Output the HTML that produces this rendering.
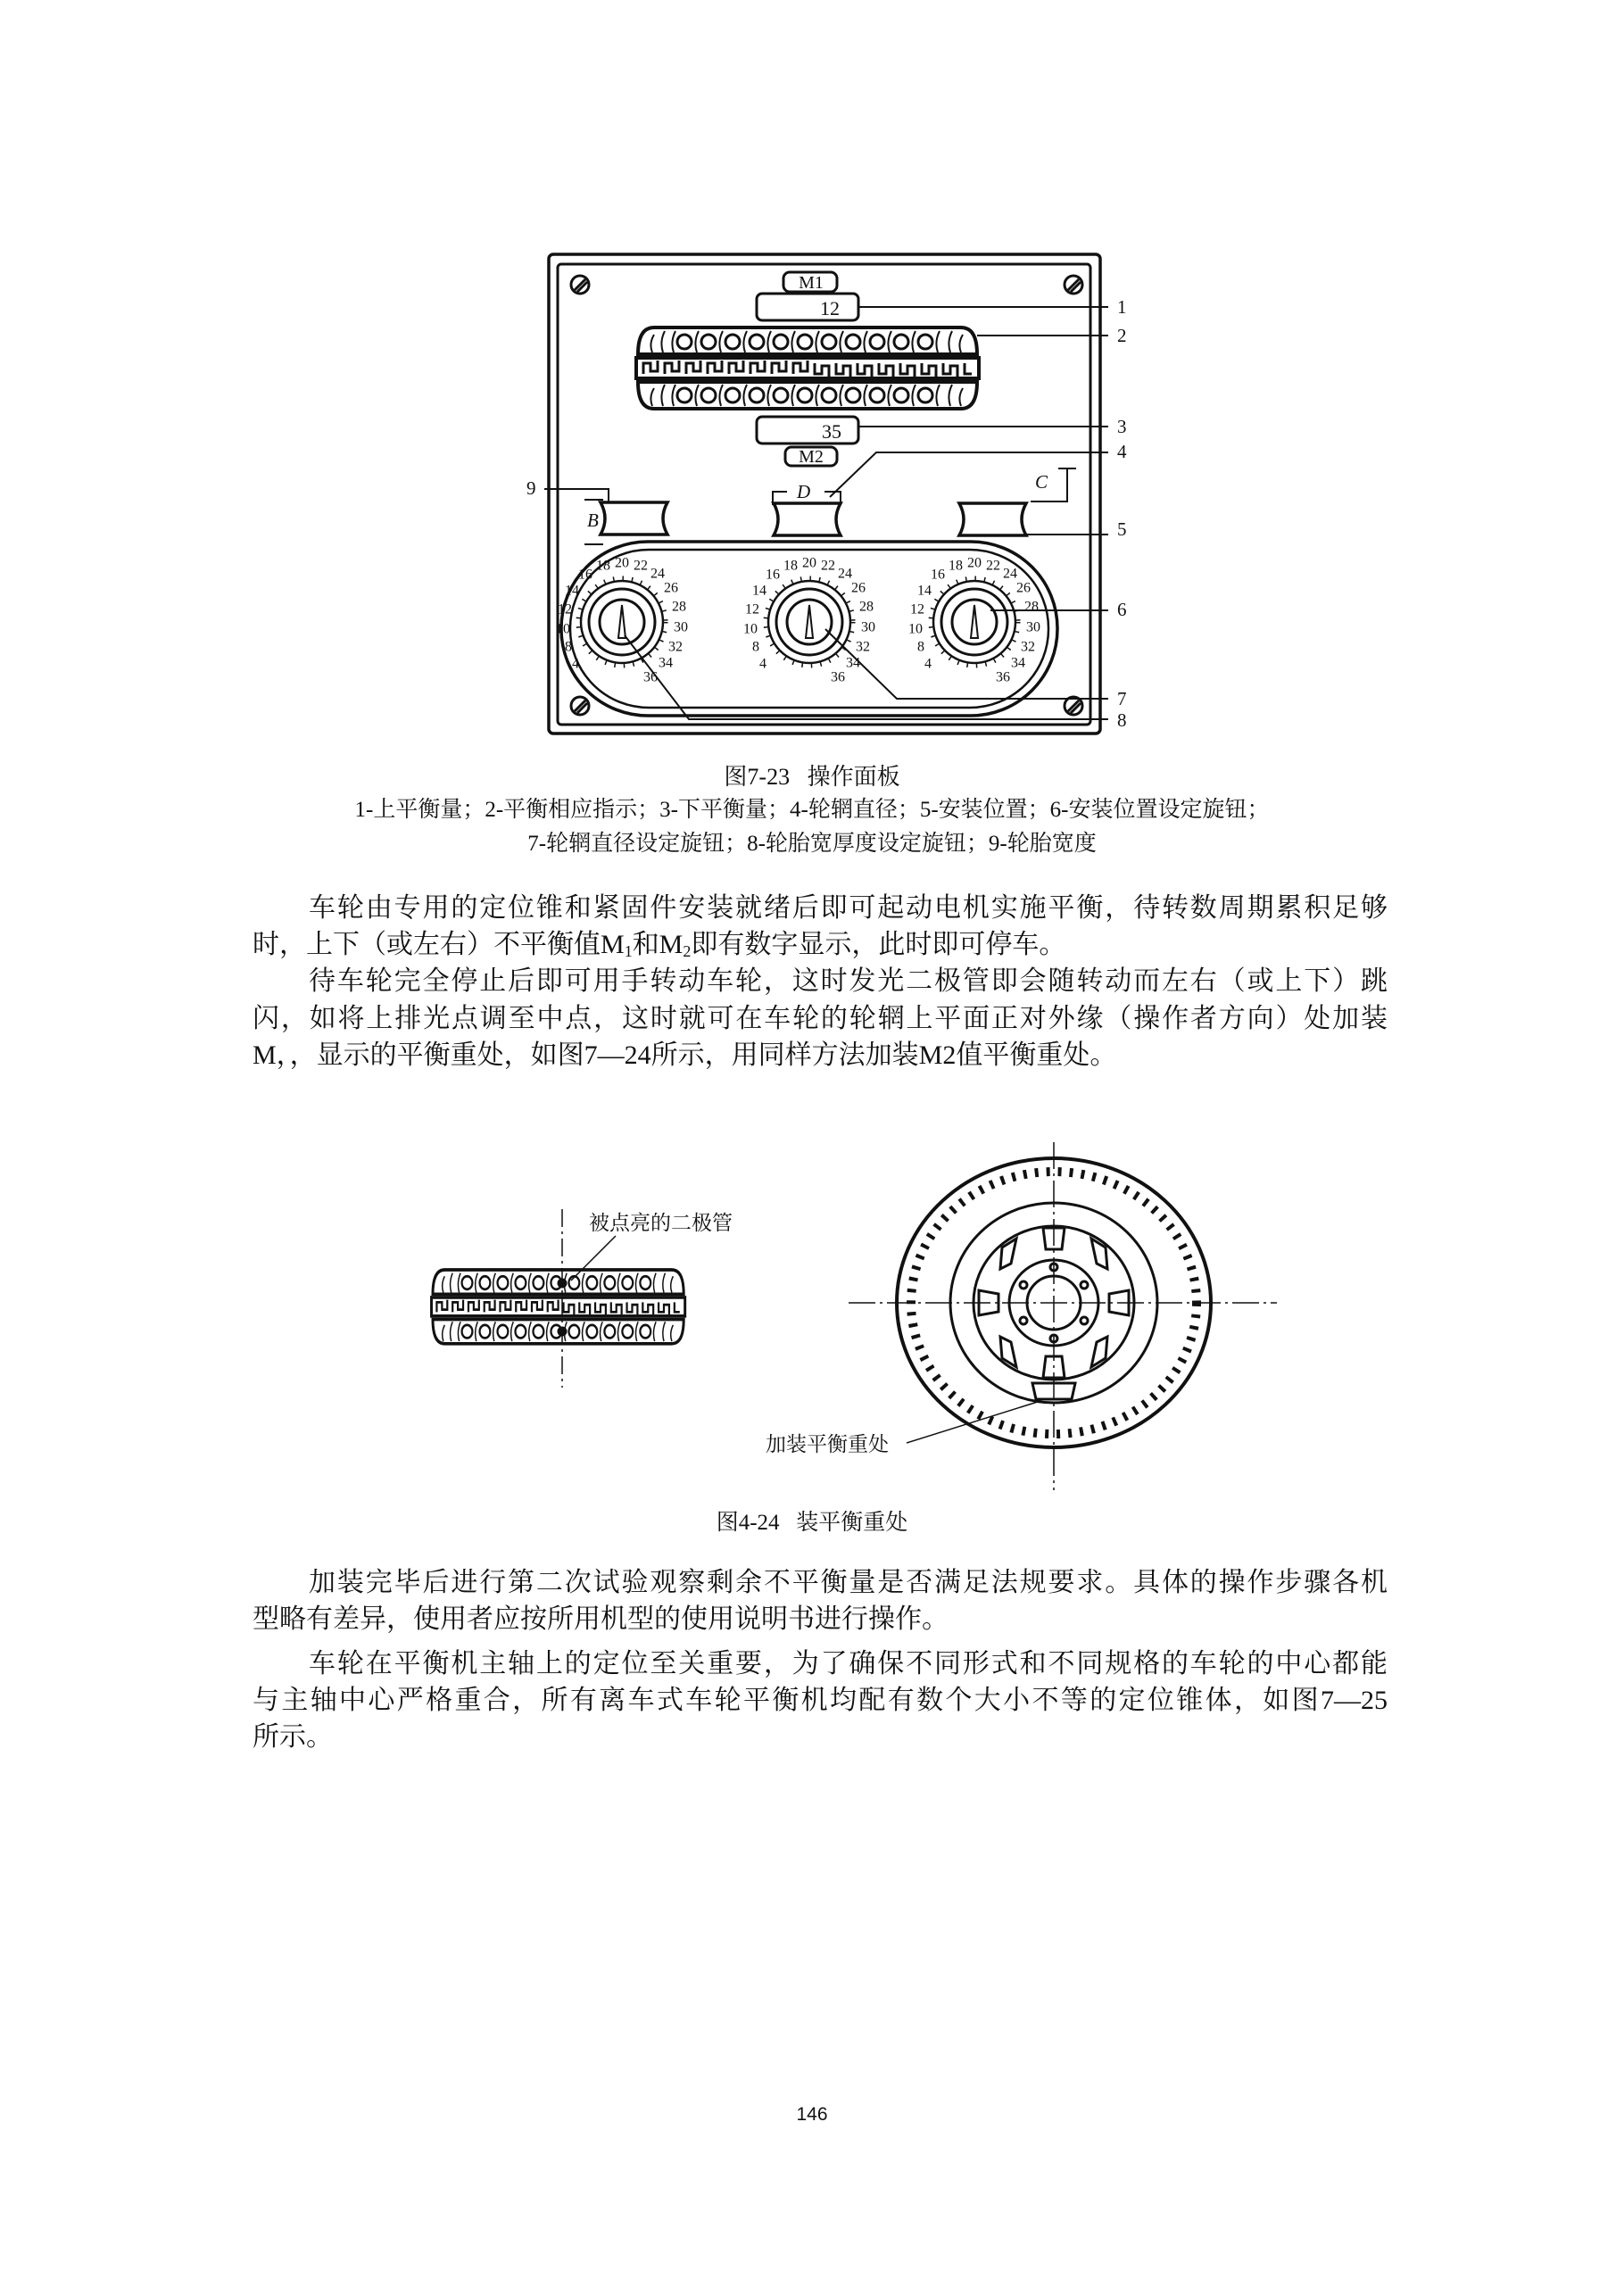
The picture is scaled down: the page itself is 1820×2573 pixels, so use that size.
<!DOCTYPE html>
<html><head><meta charset="utf-8">
<style>
html,body{margin:0;padding:0;background:#fff;}
body{width:1820px;height:2573px;position:relative;overflow:hidden;font-family:"Liberation Serif","Noto Serif CJK SC",serif;color:#111;}
.t{position:absolute;font-size:30px;line-height:40px;white-space:nowrap;}
.j{text-align:justify;text-align-last:justify;white-space:normal;}
.c{position:absolute;left:0;width:1820px;text-align:center;white-space:nowrap;}
svg{position:absolute;left:0;top:0;}
sub{font-size:18px;vertical-align:-4px;line-height:0;}
</style></head><body>
<svg width="1820" height="2573" viewBox="0 0 1820 2573" fill="none" stroke="#111">
<defs>
<g id="led">
  <path d="M18 0 H362 Q380 0 380 30 H0 Q0 0 18 0Z" stroke-width="4"/>
  <path d="M0 61 H380 Q380 91 362 91 H18 Q0 91 0 61Z" stroke-width="4"/>
  <rect x="-2" y="34" width="384" height="23" stroke-width="4"/>
  <path d="M6 52 v-12 h8 v9 h8 v-12 M30 52 v-12 h8 v9 h8 v-12 M54 52 v-12 h8 v9 h8 v-12 M78 52 v-12 h8 v9 h8 v-12 M102 52 v-12 h8 v9 h8 v-12 M126 52 v-12 h8 v9 h8 v-12 M150 52 v-12 h8 v9 h8 v-12 M174 52 v-12 h8 v9 h8 v-12 M198 40 v12 h8 v-9 h8 v12 M222 40 v12 h8 v-9 h8 v12 M246 40 v12 h8 v-9 h8 v12 M270 40 v12 h8 v-9 h8 v12 M294 40 v12 h8 v-9 h8 v12 M318 40 v12 h8 v-9 h8 v12 M342 40 v12 h8 v-9 h8 v12 M366 40 v12 h8" stroke-width="3"/>
  <g stroke-width="3">
   <circle cx="52" cy="16" r="8"/><circle cx="79" cy="16" r="8"/><circle cx="106" cy="16" r="8"/><circle cx="133" cy="16" r="8"/><circle cx="160" cy="16" r="8"/><circle cx="187" cy="16" r="8"/><circle cx="214" cy="16" r="8"/><circle cx="241" cy="16" r="8"/><circle cx="268" cy="16" r="8"/><circle cx="295" cy="16" r="8"/><circle cx="322" cy="16" r="8"/>
   <circle cx="52" cy="76" r="8"/><circle cx="79" cy="76" r="8"/><circle cx="106" cy="76" r="8"/><circle cx="133" cy="76" r="8"/><circle cx="160" cy="76" r="8"/><circle cx="187" cy="76" r="8"/><circle cx="214" cy="76" r="8"/><circle cx="241" cy="76" r="8"/><circle cx="268" cy="76" r="8"/><circle cx="295" cy="76" r="8"/><circle cx="322" cy="76" r="8"/>
  </g>
  <path d="M16 28 q-4 -10 2 -20 M28 28 q-4 -12 2 -24 M40 28 q-4 -12 2 -24 M66 28 q-4-12 2-24 M93 28 q-4-12 2-24 M120 28 q-4-12 2-24 M147 28 q-4-12 2-24 M174 28 q-4-12 2-24 M201 28 q-4-12 2-24 M228 28 q-4-12 2-24 M255 28 q-4-12 2-24 M282 28 q-4-12 2-24 M309 28 q-4-12 2-24 M336 28 q-4-12 2-24 M350 28 q-4-12 2-24 M362 28 q-4-10 2-20
  M16 88 q-4 -10 2 -20 M28 88 q-4-12 2-24 M40 88 q-4-12 2-24 M66 88 q-4-12 2-24 M93 88 q-4-12 2-24 M120 88 q-4-12 2-24 M147 88 q-4-12 2-24 M174 88 q-4-12 2-24 M201 88 q-4-12 2-24 M228 88 q-4-12 2-24 M255 88 q-4-12 2-24 M282 88 q-4-12 2-24 M309 88 q-4-12 2-24 M336 88 q-4-12 2-24 M350 88 q-4-12 2-24 M362 88 q-4-10 2-20" stroke-width="2"/>
</g>
</defs>

<!-- panel -->
<rect x="615" y="285" width="618" height="537" rx="5" stroke-width="3.5"/>
<rect x="625" y="296" width="597" height="516" rx="4" stroke-width="3"/>
<g stroke-width="3">
<circle cx="650" cy="319" r="10"/><path d="M644 325 L656 313 M647 327 L658 316"/>
<circle cx="1203" cy="319" r="10"/><path d="M1197 325 L1209 313 M1200 327 L1211 316"/>
<circle cx="650" cy="791" r="10"/><path d="M644 797 L656 785 M647 799 L658 788"/>
<circle cx="1203" cy="791" r="10"/><path d="M1197 797 L1209 785 M1200 799 L1211 788"/>
</g>
<rect x="878" y="305" width="60" height="22" rx="7" stroke-width="3"/>
<rect x="848" y="329" width="114" height="30" rx="6" stroke-width="3"/>
<use href="#led" transform="translate(715,367)"/>
<rect x="848" y="467" width="114" height="30" rx="6" stroke-width="3"/>
<rect x="880" y="501" width="58" height="21" rx="7" stroke-width="3"/>

<!-- spools -->
<g stroke-width="3.5">
<path d="M673 563 H748 Q738 581 748 599 H673 Q683 581 673 563Z"/>
<path d="M867 564 H942 Q932 582 942 600 H867 Q877 582 867 564Z"/>
<path d="M1075 564 H1150 Q1140 582 1150 600 H1075 Q1085 582 1075 564Z"/>
</g>
<!-- dial oval -->
<rect x="629" y="607" width="556" height="195" rx="97" stroke-width="3.5"/>
<rect x="639" y="616" width="536" height="177" rx="88" stroke-width="2.5"/>
<g stroke-width="3">
<circle cx="697" cy="697" r="46" stroke-width="2.5"/><circle cx="697" cy="697" r="49" stroke-width="5" stroke-dasharray="1.5 9"/><circle cx="697" cy="697" r="37"/><circle cx="697" cy="697" r="25"/>
<path d="M697 678 L693 715 L701 715Z" stroke-width="2"/>
<circle cx="907" cy="697" r="46" stroke-width="2.5"/><circle cx="907" cy="697" r="49" stroke-width="5" stroke-dasharray="1.5 9"/><circle cx="907" cy="697" r="37"/><circle cx="907" cy="697" r="25"/>
<path d="M907 678 L903 715 L911 715Z" stroke-width="2"/>
<circle cx="1092" cy="697" r="46" stroke-width="2.5"/><circle cx="1092" cy="697" r="49" stroke-width="5" stroke-dasharray="1.5 9"/><circle cx="1092" cy="697" r="37"/><circle cx="1092" cy="697" r="25"/>
<path d="M1092 678 L1088 715 L1096 715Z" stroke-width="2"/>
</g>
<!-- leaders -->
<g stroke-width="2">
<path d="M962 344 H1242"/>
<path d="M1095 376 H1242"/>
<path d="M962 478 H1242"/>
<path d="M930 557 L982 507 H1242"/>
<path d="M1150 599 H1242"/>
<path d="M1110 684 H1242"/>
<path d="M925 705 L1005 783 H1242"/>
<path d="M700 712 L772 806 H1242"/>
<path d="M610 548 H682 V562"/>
<path d="M866 566 V551 H882 M924 551 H942 V566"/>
<path d="M1155 562 H1196 V525 M1186 525 H1206"/>
<path d="M655 560 H676 M655 610 H676"/>
</g>
<g fill="#111" stroke="none" font-family="Liberation Serif, serif" font-size="21">
<text x="909" y="323" text-anchor="middle" font-size="20">M1</text>
<text x="930" y="353" text-anchor="middle" font-size="22">12</text>
<text x="932" y="491" text-anchor="middle" font-size="22">35</text>
<text x="909" y="518" text-anchor="middle" font-size="20">M2</text>
<text x="1252" y="351">1</text><text x="1252" y="383">2</text><text x="1252" y="485">3</text><text x="1252" y="513">4</text>
<text x="1252" y="600">5</text><text x="1252" y="690">6</text><text x="1252" y="790">7</text><text x="1252" y="814">8</text>
<text x="590" y="554">9</text>
<text x="658" y="590" font-style="italic">B</text>
<text x="893" y="558" font-style="italic">D</text>
<text x="1160" y="547" font-style="italic">C</text>
<g font-size="16" text-anchor="middle" dominant-baseline="central">
<g transform="translate(697,697)"><text x="0" y="-66">20</text><text x="21" y="-63">22</text><text x="40" y="-54">24</text><text x="55" y="-38">26</text><text x="64" y="-17">28</text><text x="66" y="6">30</text><text x="60" y="28">32</text><text x="49" y="46">34</text><text x="32" y="62">36</text><text x="-21" y="-63">18</text><text x="-41" y="-53">16</text><text x="-56" y="-35">14</text><text x="-64" y="-14">12</text><text x="-66" y="8">10</text><text x="-60" y="28">8</text><text x="-52" y="47">4</text></g>
<g transform="translate(907,697)"><text x="0" y="-66">20</text><text x="21" y="-63">22</text><text x="40" y="-54">24</text><text x="55" y="-38">26</text><text x="64" y="-17">28</text><text x="66" y="6">30</text><text x="60" y="28">32</text><text x="49" y="46">34</text><text x="32" y="62">36</text><text x="-21" y="-63">18</text><text x="-41" y="-53">16</text><text x="-56" y="-35">14</text><text x="-64" y="-14">12</text><text x="-66" y="8">10</text><text x="-60" y="28">8</text><text x="-52" y="47">4</text></g>
<g transform="translate(1092,697)"><text x="0" y="-66">20</text><text x="21" y="-63">22</text><text x="40" y="-54">24</text><text x="55" y="-38">26</text><text x="64" y="-17">28</text><text x="66" y="6">30</text><text x="60" y="28">32</text><text x="49" y="46">34</text><text x="32" y="62">36</text><text x="-21" y="-63">18</text><text x="-41" y="-53">16</text><text x="-56" y="-35">14</text><text x="-64" y="-14">12</text><text x="-66" y="8">10</text><text x="-60" y="28">8</text><text x="-52" y="47">4</text></g>
</g>
</g>

<!-- fig 4-24 left -->
<g transform="translate(485,1423) scale(0.74,0.91)"><use href="#led"/></g>
<path d="M630 1355 V1555" stroke-width="1.5" stroke-dasharray="20 5 3 5"/>
<circle cx="630" cy="1438" r="5" fill="#111"/><circle cx="630" cy="1492" r="5" fill="#111"/>
<path d="M690 1385 L640 1435" stroke-width="1.5"/>
<!-- wheel -->
<g transform="translate(1181,1460)">
<path d="M-230 0 H250 M0 -180 V210" stroke-width="1.5" stroke-dasharray="30 5 3 5"/>
<ellipse rx="176" ry="162" stroke-width="4"/>
<ellipse rx="160" ry="147" stroke-width="10" stroke-dasharray="4 9"/>
<ellipse rx="116" ry="112" stroke-width="3"/>
<ellipse rx="90" ry="86" stroke-width="3"/>
<ellipse rx="50" ry="48" stroke-width="3"/>
<circle r="30" stroke-width="3"/>
<g stroke-width="3">
<circle cx="0" cy="-40" r="4"/><circle cx="0" cy="40" r="4"/><circle cx="-34" cy="-20" r="4"/><circle cx="34" cy="-20" r="4"/><circle cx="-34" cy="20" r="4"/><circle cx="34" cy="20" r="4"/>
<path d="M-12 -84 H12 L9 -60 H-9Z"/><path d="M-12 84 H12 L9 60 H-9Z"/>
<path d="M-84 -14 V14 L-62 10 V-10Z"/><path d="M84 -14 V14 L62 10 V-10Z"/>
<path d="M-58 -62 L-42 -72 L-48 -44 L-60 -38Z"/><path d="M58 -62 L42 -72 L48 -44 L60 -38Z"/>
<path d="M-58 62 L-42 72 L-48 44 L-60 38Z"/><path d="M58 62 L42 72 L48 44 L60 38Z"/>
<path d="M-24 90 H24 L20 108 H-20Z"/>
</g>
<path d="M-165 157 L-15 110" stroke-width="1.5"/>
</g>
</svg>

<div class="c" style="top:850px;font-size:26px;">图7-23&nbsp;&nbsp;&nbsp;操作面板</div>
<div class="c" style="top:887px;font-size:25px;">1-上平衡量；2-平衡相应指示；3-下平衡量；4-轮辋直径；5-安装位置；6-安装位置设定旋钮；</div>
<div class="c" style="top:925px;font-size:25px;">7-轮辋直径设定旋钮；8-轮胎宽厚度设定旋钮；9-轮胎宽度</div>

<div class="t j" style="left:346px;top:998px;width:1209px;">车轮由专用的定位锥和紧固件安装就绪后即可起动电机实施平衡，待转数周期累积足够</div>
<div class="t" style="left:283px;top:1039px;">时，上下（或左右）不平衡值M<sub>1</sub>和M<sub>2</sub>即有数字显示，此时即可停车。</div>
<div class="t j" style="left:346px;top:1080px;width:1209px;">待车轮完全停止后即可用手转动车轮，这时发光二极管即会随转动而左右（或上下）跳</div>
<div class="t" style="left:283px;top:1122px;width:1272px;" class="t j"><div style="text-align:justify;text-align-last:justify;white-space:normal;">闪，如将上排光点调至中点，这时就可在车轮的轮辋上平面正对外缘（操作者方向）处加装</div></div>
<div class="t" style="left:283px;top:1163px;">M，，显示的平衡重处，如图7—24所示，用同样方法加装M2值平衡重处。</div>

<div style="position:absolute;left:660px;top:1352px;font-size:23px;">被点亮的二极管</div>
<div style="position:absolute;left:858px;top:1600px;font-size:23px;">加装平衡重处</div>
<div class="c" style="top:1686px;font-size:25px;">图4-24&nbsp;&nbsp;&nbsp;装平衡重处</div>

<div class="t j" style="left:346px;top:1754px;width:1209px;">加装完毕后进行第二次试验观察剩余不平衡量是否满足法规要求。具体的操作步骤各机</div>
<div class="t" style="left:283px;top:1795px;">型略有差异，使用者应按所用机型的使用说明书进行操作。</div>
<div class="t j" style="left:346px;top:1845px;width:1209px;">车轮在平衡机主轴上的定位至关重要，为了确保不同形式和不同规格的车轮的中心都能</div>
<div class="t j" style="left:283px;top:1886px;width:1272px;">与主轴中心严格重合，所有离车式车轮平衡机均配有数个大小不等的定位锥体，如图7—25</div>
<div class="t" style="left:283px;top:1927px;">所示。</div>

<div class="c" style="top:2358px;font-size:21px;font-family:'Liberation Sans',sans-serif;">146</div>
</body></html>
